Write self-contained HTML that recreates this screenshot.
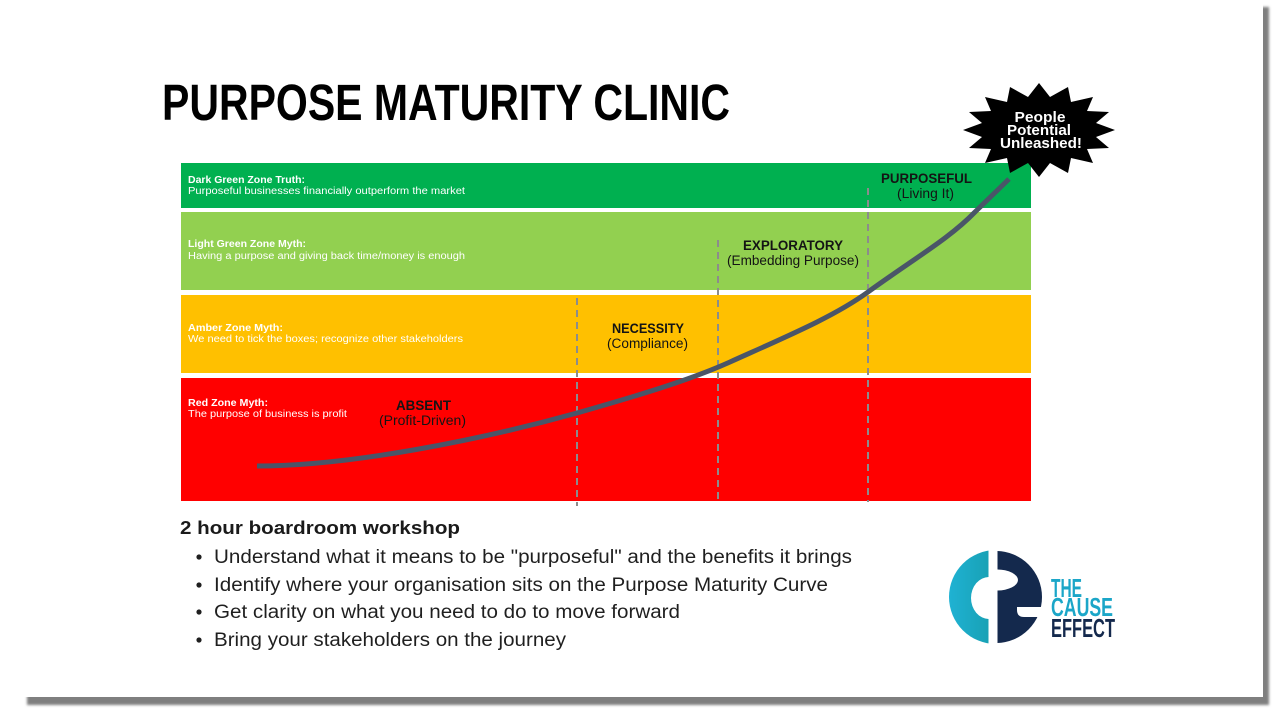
<!DOCTYPE html>
<html>
<head>
<meta charset="utf-8">
<style>
  html,body{margin:0;padding:0;background:#fff;}
  body{width:1280px;height:720px;overflow:hidden;}
  svg{display:block;}
  text{font-family:"Liberation Sans", Arial, sans-serif;}
</style>
</head>
<body>
<svg width="1280" height="720" viewBox="0 0 1280 720" xmlns="http://www.w3.org/2000/svg">
  <defs>
    <filter id="blur" x="-5%" y="-5%" width="110%" height="110%">
      <feGaussianBlur stdDeviation="1.2"/>
    </filter>
    <linearGradient id="teal" x1="0" y1="0" x2="1" y2="0">
      <stop offset="0" stop-color="#1fb2d3"/>
      <stop offset="1" stop-color="#0f8a8c"/>
    </linearGradient>
    <clipPath id="leftHalf"><rect x="940" y="540" width="48.5" height="115"/></clipPath>
    <clipPath id="rightHalf"><rect x="997.5" y="540" width="60" height="115"/></clipPath>
  </defs>

  <!-- card shadow + card -->
  <rect x="27" y="7" width="1242" height="698" fill="#7f7f7f" filter="url(#blur)"/>
  <rect x="22" y="0" width="1241" height="697" fill="#ffffff"/>

  <!-- Title -->
  <text x="162" y="120" font-size="51" font-weight="bold" fill="#000" textLength="568" lengthAdjust="spacingAndGlyphs">PURPOSE MATURITY CLINIC</text>

  <!-- Bands -->
  <rect x="181" y="163" width="850" height="45" fill="#00b050"/>
  <rect x="181" y="212" width="850" height="78" fill="#92d050"/>
  <rect x="181" y="295" width="850" height="78" fill="#ffc000"/>
  <rect x="181" y="378" width="850" height="123" fill="#ff0000"/>

  <!-- Band texts -->
  <g fill="#ffffff" font-size="10">
    <text x="188" y="183" font-weight="bold" textLength="117" lengthAdjust="spacingAndGlyphs">Dark Green Zone Truth:</text>
    <text x="188" y="194" textLength="277" lengthAdjust="spacingAndGlyphs">Purposeful businesses financially outperform the market</text>
    <text x="188" y="247" font-weight="bold" textLength="118" lengthAdjust="spacingAndGlyphs">Light Green Zone Myth:</text>
    <text x="188" y="259" textLength="277" lengthAdjust="spacingAndGlyphs">Having a purpose and giving back time/money is enough</text>
    <text x="188" y="331" font-weight="bold" textLength="95" lengthAdjust="spacingAndGlyphs">Amber Zone Myth:</text>
    <text x="188" y="342" textLength="275" lengthAdjust="spacingAndGlyphs">We need to tick the boxes; recognize other stakeholders</text>
    <text x="188" y="406" font-weight="bold" textLength="80" lengthAdjust="spacingAndGlyphs">Red Zone Myth:</text>
    <text x="188" y="417" textLength="159" lengthAdjust="spacingAndGlyphs">The purpose of business is profit</text>
  </g>

  <!-- Dashed dividers -->
  <g stroke="#8c8c8c" stroke-width="2" stroke-dasharray="7,5" fill="none">
    <line x1="577" y1="298" x2="577" y2="506"/>
    <line x1="718" y1="240" x2="718" y2="502"/>
    <line x1="868" y1="188" x2="868" y2="502"/>
  </g>

  <!-- Stage labels -->
  <g fill="#141414" text-anchor="middle">
    <text x="423.5" y="410" font-size="13.5" font-weight="bold" textLength="55" lengthAdjust="spacingAndGlyphs">ABSENT</text>
    <text x="422.5" y="425" font-size="13.5" textLength="87" lengthAdjust="spacingAndGlyphs">(Profit-Driven)</text>
    <text x="648" y="333" font-size="13.5" font-weight="bold" textLength="72" lengthAdjust="spacingAndGlyphs">NECESSITY</text>
    <text x="647.5" y="348" font-size="13.5" textLength="81" lengthAdjust="spacingAndGlyphs">(Compliance)</text>
    <text x="793" y="250" font-size="13.5" font-weight="bold" textLength="100" lengthAdjust="spacingAndGlyphs">EXPLORATORY</text>
    <text x="793" y="265" font-size="13.5" textLength="132" lengthAdjust="spacingAndGlyphs">(Embedding Purpose)</text>
    <text x="926.5" y="183" font-size="13.5" font-weight="bold" textLength="91" lengthAdjust="spacingAndGlyphs">PURPOSEFUL</text>
    <text x="925.5" y="198" font-size="13.5" textLength="57" lengthAdjust="spacingAndGlyphs">(Living It)</text>
  </g>

  <!-- Curve -->
  <path d="M257,466 C350,466 480,440 577,413 C640,395 690,380 730,362 C790,335 835,316 868,292 C915,258 950,238 975,212 L1009,179"
        fill="none" stroke="#4a5568" stroke-width="5"/>

  <!-- Starburst -->
  <polygon fill="#000" points="1115,130 1096,137 1109,148 1087,149 1093,163 1071,158 1068,173 1050,163 1039,177 1028,163 1010,173 1007,158 985,163 991,149 969,148 982,137 963,130 982,123 969,112 991,111 985,97 1007,102 1010,87 1028,97 1039,83 1050,97 1068,87 1071,102 1093,97 1087,111 1109,112 1096,123"/>
  <g fill="#ffffff" font-size="14.5" font-weight="bold" text-anchor="middle">
    <text x="1040" y="122" textLength="51" lengthAdjust="spacingAndGlyphs">People</text>
    <text x="1039" y="135" textLength="64" lengthAdjust="spacingAndGlyphs">Potential</text>
    <text x="1041" y="148" textLength="82" lengthAdjust="spacingAndGlyphs">Unleashed!</text>
  </g>

  <!-- Workshop text -->
  <text x="180" y="534" font-size="18" font-weight="bold" fill="#1a1a1a" textLength="280" lengthAdjust="spacingAndGlyphs">2 hour boardroom workshop</text>
  <g fill="#1f1f1f" font-size="19">
    <circle cx="199" cy="557" r="2.6"/>
    <circle cx="199" cy="585" r="2.6"/>
    <circle cx="199" cy="612" r="2.6"/>
    <circle cx="199" cy="640" r="2.6"/>
    <text x="214" y="563" textLength="638" lengthAdjust="spacingAndGlyphs">Understand what it means to be "purposeful" and the benefits it brings</text>
    <text x="214" y="591" textLength="614" lengthAdjust="spacingAndGlyphs">Identify where your organisation sits on the Purpose Maturity Curve</text>
    <text x="214" y="618" textLength="466" lengthAdjust="spacingAndGlyphs">Get clarity on what you need to do to move forward</text>
    <text x="214" y="646" textLength="352" lengthAdjust="spacingAndGlyphs">Bring your stakeholders on the journey</text>
  </g>

  <!-- Logo -->
  <g clip-path="url(#leftHalf)">
    <circle cx="996" cy="597" r="47" fill="url(#teal)"/>
    <ellipse cx="989" cy="598" rx="18" ry="21" fill="#fff"/>
  </g>
  <g clip-path="url(#rightHalf)">
    <circle cx="996" cy="597" r="46" fill="#14294d"/>
    <ellipse cx="997" cy="580" rx="21" ry="10.5" fill="#fff"/>
    <path d="M1017,607 L1045,607 L1045,617 L1024,617 Q1017,617 1017,610 Z" fill="#fff"/>
  </g>
  <g font-size="26" font-weight="bold">
    <text x="1051" y="597" fill="#1ba6c8" textLength="31" lengthAdjust="spacingAndGlyphs">THE</text>
    <text x="1051" y="616" fill="#1ba6c8" textLength="62" lengthAdjust="spacingAndGlyphs">CAUSE</text>
    <text x="1051" y="637" fill="#14294d" textLength="64" lengthAdjust="spacingAndGlyphs">EFFECT</text>
  </g>
</svg>
</body>
</html>
